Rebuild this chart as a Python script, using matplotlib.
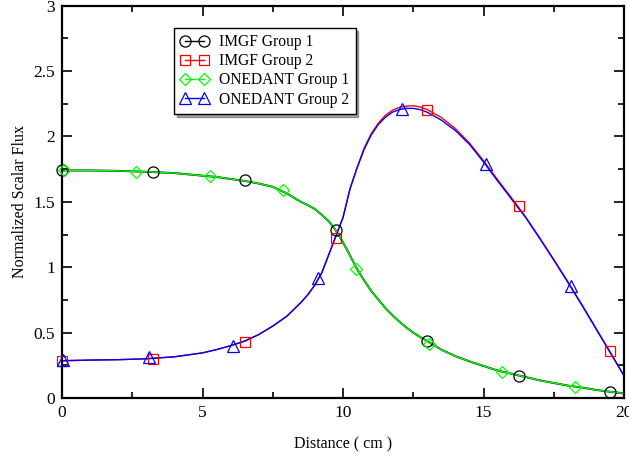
#! /usr/bin/env python3

import matplotlib
matplotlib.use('Agg')
import matplotlib.pyplot as plt
from matplotlib.lines import Line2D
from matplotlib.ticker import MultipleLocator, FormatStrFormatter

plt.rcParams['font.family'] = ['Liberation Serif', 'DejaVu Serif']

# distance grid for the smooth curves (cm)
x_line = [0, 1, 2, 3, 4, 5, 5.5, 6, 6.5, 7, 7.5, 8, 8.5, 8.75, 9, 9.25, 9.5, 9.75,
          10, 10.25, 10.5, 10.75, 11, 11.25, 11.5, 11.75, 12, 12.25, 12.5, 12.75,
          13, 13.5, 14, 14.5, 15, 15.5, 16, 16.5, 17, 17.5, 18, 18.5, 19, 19.5, 20]

# group 1 curves (IMGF and ONEDANT nearly on top of each other)
imgf_g1 = [1.74, 1.74, 1.737, 1.73, 1.72, 1.70, 1.69, 1.675, 1.66, 1.64, 1.615, 1.565,
           1.50, 1.475, 1.445, 1.40, 1.35, 1.28, 1.19, 1.09, 0.985, 0.90, 0.82, 0.755,
           0.69, 0.635, 0.585, 0.54, 0.50, 0.465, 0.435, 0.37, 0.32, 0.28, 0.245, 0.21,
           0.185, 0.16, 0.135, 0.115, 0.095, 0.08, 0.062, 0.048, 0.035]
onedant_g1 = [1.74, 1.74, 1.737, 1.73, 1.72, 1.70, 1.69, 1.675, 1.66, 1.64, 1.615, 1.565,
              1.50, 1.475, 1.445, 1.40, 1.35, 1.28, 1.19, 1.09, 0.985, 0.90, 0.82, 0.755,
              0.69, 0.635, 0.585, 0.54, 0.50, 0.465, 0.435, 0.37, 0.32, 0.28, 0.245, 0.21,
              0.185, 0.16, 0.135, 0.115, 0.095, 0.08, 0.062, 0.048, 0.035]

# group 2 curves
imgf_g2 = [0.285, 0.29, 0.293, 0.30, 0.315, 0.345, 0.37, 0.40, 0.435, 0.485, 0.55, 0.625,
           0.73, 0.79, 0.865, 0.96, 1.10, 1.24, 1.38, 1.60, 1.76, 1.91, 2.02, 2.10,
           2.16, 2.20, 2.222, 2.232, 2.235, 2.225, 2.205, 2.145, 2.06, 1.95, 1.815, 1.67,
           1.53, 1.385, 1.225, 1.06, 0.89, 0.715, 0.535, 0.355, 0.17]
onedant_g2 = [0.285, 0.29, 0.293, 0.30, 0.315, 0.345, 0.37, 0.40, 0.435, 0.485, 0.55, 0.625,
              0.73, 0.79, 0.865, 0.96, 1.10, 1.24, 1.38, 1.60, 1.76, 1.90, 2.01, 2.09,
              2.145, 2.185, 2.205, 2.215, 2.215, 2.205, 2.185, 2.125, 2.045, 1.94, 1.805, 1.66,
              1.52, 1.38, 1.22, 1.055, 0.885, 0.71, 0.53, 0.35, 0.17]

# marker positions
imgf_g1_mx = [0, 3.25, 6.5, 9.75, 13.0, 16.25, 19.5]
imgf_g1_my = [1.74, 1.725, 1.665, 1.285, 0.435, 0.17, 0.047]
imgf_g2_mx = [0, 3.25, 6.5, 9.75, 13.0, 16.25, 19.5]
imgf_g2_my = [0.285, 0.30, 0.43, 1.22, 2.20, 1.47, 0.36]
onedant_g1_mx = [0.07, 2.65, 5.25, 7.85, 10.45, 13.05, 15.65, 18.25]
onedant_g1_my = [1.74, 1.725, 1.695, 1.59, 0.99, 0.41, 0.20, 0.085]
onedant_g2_mx = [0.05, 3.1, 6.1, 9.1, 12.1, 15.1, 18.1]
onedant_g2_my = [0.29, 0.31, 0.40, 0.915, 2.21, 1.79, 0.86]

labels = ['IMGF Group 1', 'IMGF Group 2', 'ONEDANT Group 1', 'ONEDANT Group 2']
colors = ['black', '#ff0000', '#00ff00', '#0000ff']
marks = ['o', 's', 'D', '^']
msizes = [8, 7.5, 6, 8.5]
widths = [1.4, 1.0, 1.0, 1.0]   # black under green shows as a darker edge

fig = plt.figure(figsize=(6.29, 4.58), dpi=100)
ax = fig.add_axes([62/629, 1-398/458, 562/629, 392.3/458])

curves = [imgf_g1, imgf_g2, onedant_g1, onedant_g2]
mxs = [imgf_g1_mx, imgf_g2_mx, onedant_g1_mx, onedant_g2_mx]
mys = [imgf_g1_my, imgf_g2_my, onedant_g1_my, onedant_g2_my]

# lines first, markers on top (hollow, like xmgrace)
for ys, c, w in zip(curves, colors, widths):
    ax.plot(x_line, ys, '-', color=c, lw=w)
for mx, my, c, m, s in zip(mxs, mys, colors, marks, msizes):
    ax.plot(mx, my, m, color=c, mfc='none', mec=c, ms=s, mew=0.9, clip_on=False, zorder=3)

ax.set_xlim(0, 20)
ax.set_ylim(0, 3)
ax.xaxis.set_major_locator(MultipleLocator(5))
ax.xaxis.set_minor_locator(MultipleLocator(2.5))
ax.yaxis.set_major_locator(MultipleLocator(0.5))
ax.yaxis.set_minor_locator(MultipleLocator(0.25))
ax.xaxis.set_major_formatter(FormatStrFormatter('%g'))
ax.yaxis.set_major_formatter(FormatStrFormatter('%g'))
ax.tick_params(which='both', direction='in', top=True, right=True, labelsize=12.5, width=1.2)
ax.tick_params(which='major', length=7.5, pad=5)
ax.tick_params(which='minor', length=4)
for sp in ax.spines.values():
    sp.set_linewidth(1.6)

ax.set_xlabel('Distance ( cm )', fontsize=11.5, labelpad=11)
ax.set_ylabel('Normalized Scalar Flux', fontsize=11.5, labelpad=4)

handles = []
for c, m, s in zip(colors, marks, msizes):
    handles.append(Line2D([], [], color=c, lw=1.0, marker=m, mfc='none', mec=c, ms=s, mew=0.9))
leg = ax.legend(handles, labels, loc='upper left', bbox_to_anchor=(174/629, 1-28/458),
                bbox_transform=fig.transFigure, numpoints=2, handlelength=1.8,
                fontsize=11.2, fancybox=False, shadow=True, framealpha=1,
                edgecolor='black', borderaxespad=0, borderpad=0.4,
                labelspacing=0.2, handletextpad=0.7)
leg.get_frame().set_linewidth(1.0)

fig.savefig('out.png', dpi=100)
